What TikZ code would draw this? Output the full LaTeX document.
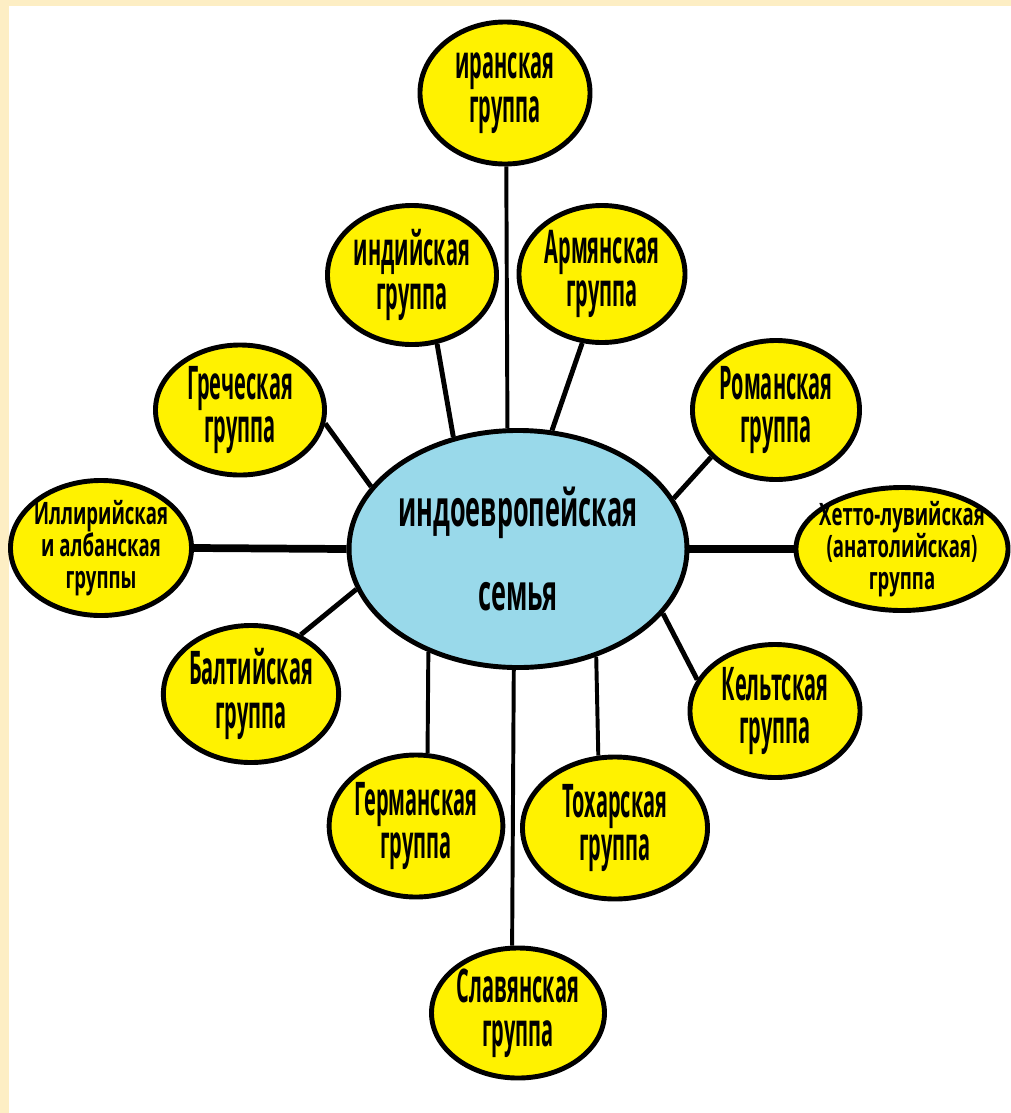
\documentclass[tikz,border=0pt]{standalone}
\usepackage{fontspec}
\usetikzlibrary{shapes.geometric}
\newfontfamily\grpfont{Open Sans}[FakeStretch=0.43]
\newfontfamily\narrowfont{Open Sans}[FakeStretch=0.6]
\newfontfamily\famfont{Open Sans}[FakeStretch=0.5]
\definecolor{grpyellow}{RGB}{255,242,0}
\definecolor{famblue}{RGB}{153,217,234}
\definecolor{framecream}{RGB}{253,238,196}

\begin{document}
\begin{tikzpicture}[x=0.025cm, y=-0.025cm,
    grp/.style={ellipse, draw, line width=3.5pt, fill=grpyellow, inner sep=0pt,
        minimum width=4.25cm, minimum height=3.5cm, align=center,
        font=\grpfont\bfseries\fontsize{33}{31}\selectfont},
    small/.style={inner xsep=-14pt, inner ysep=-6pt,
        font=\narrowfont\bfseries\fontsize{22}{23}\selectfont},
    link/.style={line width=3.5pt},
    thinlink/.style={line width=2.8pt},
    thicklink/.style={line width=5.5pt}]
        \useasboundingbox (0, 0) rectangle (1011, 1113);
        % frame
        \fill[framecream] (0, 0) rectangle (1011, 1113);
        \fill[white] (9, 6) rectangle (1011, 1113);
        % family
        \node[ellipse, draw, line width=3.5pt, fill=famblue, inner sep=0pt, minimum width=8.125cm, minimum height=5.925cm, align=center, font=\famfont\bfseries\fontsize{36}{60}\selectfont] (family) at (518, 549) {индоевропейская\\семья};
        % groups
        \node[grp, minimum height=3.55cm] (iran) at (505, 93) {иранская\\группа};
        \node[grp, minimum width=4.225cm, minimum height=3.475cm] (india) at (412, 275) {индийская\\группа};
        \node[grp, minimum width=4.15cm, minimum height=3.425cm] (armen) at (602, 274) {Армянская\\группа};
        \node[grp, minimum width=4.225cm, minimum height=3.25cm] (greek) at (240, 410) {Греческая\\группа};
        \node[grp, minimum width=4.175cm, minimum height=3.475cm] (roman) at (776, 410) {Романская\\группа};
        \node[grp, small, minimum width=4.525cm, minimum height=3.375cm] (illyr) at (101, 548) {Иллирийская\\и албанская\\группы};
        \node[grp, small, minimum width=5.3cm, minimum height=3.075cm] (hitt) at (902, 549) {Хетто-лувийская\\(анатолийская)\\группа};
        \node[grp, minimum width=4.175cm, minimum height=3.425cm] (balt) at (251, 694) {Балтийская\\группа};
        \node[grp, minimum height=3.325cm] (celt) at (775, 711) {Кельтская\\группа};
        \node[grp, minimum height=3.55cm] (germ) at (416, 826) {Германская\\группа};
        \node[grp, minimum width=4.625cm, minimum height=3.55cm] (tochar) at (615, 828) {Тохарская\\группа};
        \node[grp, minimum height=3.25cm] (slav) at (518, 1013) {Славянская\\группа};
        % links
        \draw[thinlink] (iran.-89) -- (family.95);
        \draw[link] (india.-70) -- (family.120);
        \draw[link] (armen.-106) -- (family.74);
        \draw[link] (greek.-9) -- (family.157);
        \draw[link] (roman.-144) -- (family.18);
        \draw[thicklink] (illyr.east) -- (family.west);
        \draw[thicklink] (family.east) -- (hitt.west);
        \draw[link] (balt.50) -- (family.-166);
        \draw[link] (celt.158) -- (family.-24);
        \draw[thinlink] (germ.81) -- (family.-131);
        \draw[thinlink] (tochar.103) -- (family.-54);
        \draw[thinlink] (slav.95) -- (family.-92);
\end{tikzpicture}
\end{document}
